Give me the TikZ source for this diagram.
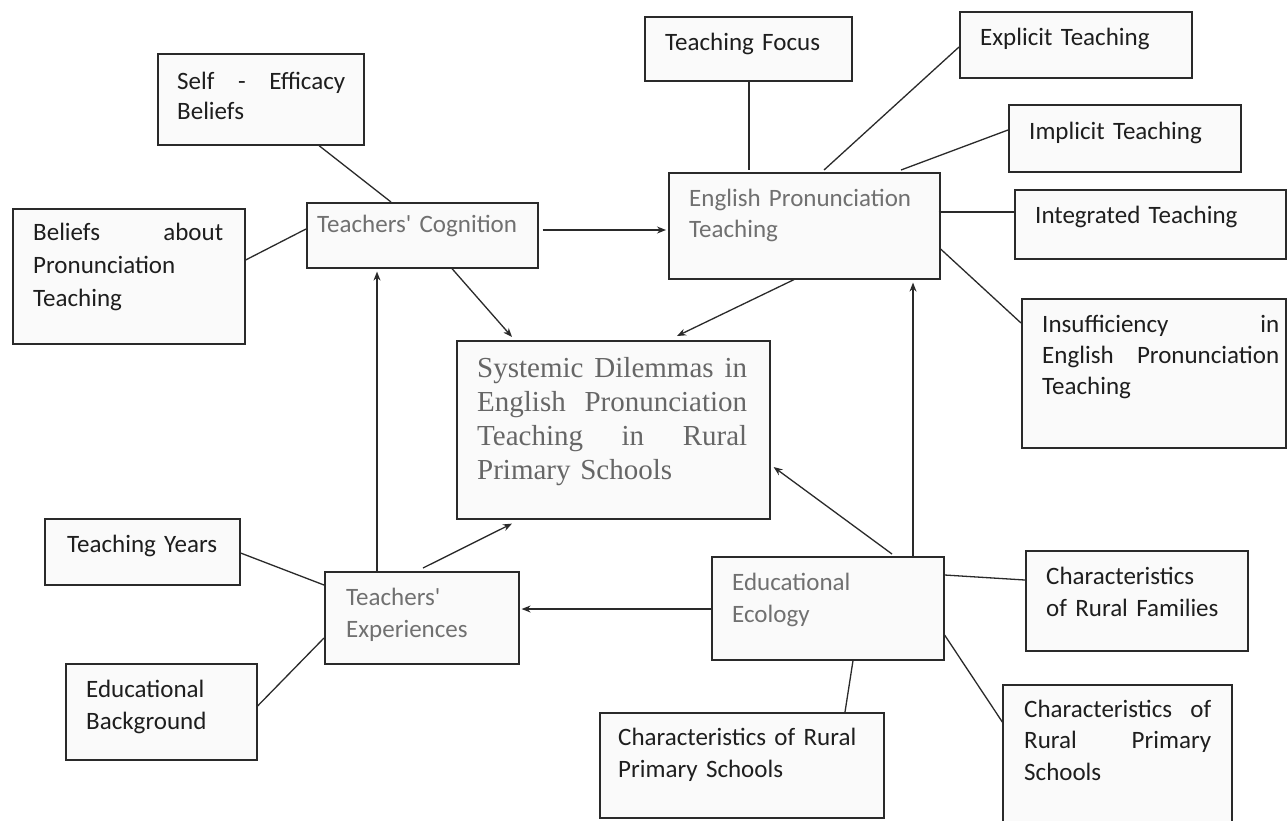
\documentclass[tikz,border=0pt]{standalone}
\usepackage{fontspec}
\setmainfont{Carlito}
\newfontfamily\serifsys{Liberation Serif}
\usetikzlibrary{arrows.meta,calc}
\definecolor{fillc}{HTML}{FAFAFA}
\definecolor{mainTxt}{HTML}{707070}
\definecolor{sysTxt}{HTML}{666666}
\definecolor{leafTxt}{HTML}{1E1E1E}
\definecolor{edgeC}{HTML}{2A2A2A}
\newcommand\jline[2]{\leavevmode\hbox to #1pt{#2}}
\begin{document}
\begin{tikzpicture}[x=1pt,y=-1pt,
  box/.style={draw=edgeC, line width=1.6pt, fill=fillc, inner sep=0pt, anchor=north west},
  lbl/.style={anchor=base west, inner sep=0pt, align=left, text=leafTxt, font=\fontsize{25}{32}\selectfont},
  mlbl/.style={lbl, text=mainTxt},
  link/.style={draw=edgeC, line width=1.3pt},
  arr/.style={link, -{Stealth[length=9pt,width=7pt]}}]
\useasboundingbox (0,0) rectangle (1287,820);
\clip (0,0) rectangle (1287,820);
\fill[white] (0,0) rectangle (1287,820);

% boxes
\node[box, minimum width=206pt, minimum height=91pt] (se) at (157,53) {};
\node[box, minimum width=232pt, minimum height=135pt] (bel) at (12,208) {};
\node[box, minimum width=231pt, minimum height=65pt] (tc) at (306,202) {};
\node[box, minimum width=207pt, minimum height=64pt] (tf) at (644,16) {};
\node[box, minimum width=271pt, minimum height=106pt] (ept) at (668,172) {};
\node[box, minimum width=232pt, minimum height=66pt] (exp) at (959,11) {};
\node[box, minimum width=232pt, minimum height=67pt] (imp) at (1008,104) {};
\node[box, minimum width=271pt, minimum height=69pt] (int) at (1014,189) {};
\node[box, minimum width=264pt, minimum height=149pt] (ins) at (1021,298) {};
\node[box, minimum width=313pt, minimum height=178pt] (sys) at (456,340) {};
\node[box, minimum width=195pt, minimum height=66pt] (ty) at (44,518) {};
\node[box, minimum width=194pt, minimum height=92pt] (te) at (324,571) {};
\node[box, minimum width=191pt, minimum height=96pt] (eb) at (65,663) {};
\node[box, minimum width=232pt, minimum height=103pt] (eco) at (711,556) {};
\node[box, minimum width=284pt, minimum height=105pt] (crps) at (599,712) {};
\node[box, minimum width=222pt, minimum height=100pt] (crf) at (1025,550) {};
\node[box, minimum width=229pt, minimum height=146pt] (crpsb) at (1002,684) {};

% connectors
\draw[link] ($(se.south west)+(162,0)$) -- ($(tc.north west)+(85,0)$);
\draw[link] ($(bel.north east)+(0,52)$) -- ($(tc.north west)+(0,27)$);
\draw[arr] ($(tc.north east)+(4,28)$) -- ($(ept.north west)+(-2,58)$);
\draw[arr] ($(tc.south west)+(146,0)$) -- ($(sys.north west)+(56,-3)$);
\draw[arr] ($(te.north west)+(53,0)$) -- ($(tc.south west)+(71,3)$);
\draw[link] ($(tf.south west)+(105,0)$) -- ($(ept.north west)+(81,-2)$);
\draw[link] ($(ept.north west)+(156,-2)$) -- ($(exp.north west)+(0,36)$);
\draw[link] ($(ept.north west)+(233,-2)$) -- ($(imp.north west)+(0,26)$);
\draw[link] ($(ept.north east)+(-2,40)$) -- ($(int.north west)+(0,23)$);
\draw[link] ($(ept.north east)+(0,77)$) -- ($(ins.north west)+(0,25)$);
\draw[arr] ($(ept.south west)+(126,0)$) -- ($(sys.north west)+(221,-4)$);
\draw[arr] ($(eco.north west)+(202,0)$) -- ($(ept.south west)+(245,3)$);
\draw[arr] ($(eco.north west)+(181,-2)$) -- ($(sys.north east)+(3,127)$);
\draw[arr] ($(eco.north west)+(0,53)$) -- ($(te.north east)+(2,38)$);
\draw[arr] ($(te.north west)+(99,-3)$) -- ($(sys.south west)+(56,4)$);
\draw[link] ($(ty.north east)+(0,35)$) -- ($(te.north west)+(0,14)$);
\draw[link] ($(eb.north east)+(0,43)$) -- ($(te.north west)+(0,67)$);
\draw[link] ($(eco.north east)+(0,19)$) -- ($(crf.north west)+(0,30)$);
\draw[link] ($(eco.north east)+(0,79)$) -- ($(crpsb.north west)+(1,39)$);
\draw[link] ($(eco.south west)+(142,0)$) -- ($(crps.north west)+(246,0)$);

% labels
\node[lbl, text width=220pt, font=\fontsize{25}{30}\selectfont] (seL) at (177,89) {\jline{168}{Self\hfill-\hfill Efficacy}\\Beliefs};
\node[lbl, text width=230pt, font=\fontsize{25}{33}\selectfont] (belL) at (33,240) {\jline{190}{Beliefs\hfill about}\\Pronunciation\\Teaching};
\node[mlbl, text width=230pt] (tcL) at (317,232) {Teachers\textquotesingle\ Cognition};
\node[lbl, text width=200pt] (tfL) at (665,50) {Teaching Focus};
\node[mlbl, text width=260pt, font=\fontsize{25}{31}\selectfont] (eptL) at (689,206) {English Pronunciation\\Teaching};
\node[lbl, text width=220pt] (expL) at (980,45) {Explicit Teaching};
\node[lbl, text width=220pt] (impL) at (1029,139) {Implicit Teaching};
\node[lbl, text width=240pt] (intL) at (1035,223) {Integrated Teaching};
\node[lbl, text width=260pt, font=\fontsize{25}{31}\selectfont] (insL) at (1042,332) {\jline{237}{Insufficiency\hfill in}\\\jline{237}{English\hfill Pronunciation}\\Teaching};
\node[lbl, text width=300pt, text=sysTxt, font=\serifsys\fontsize{29}{34}\selectfont] (sysL) at (477,377) {\jline{270}{Systemic\hfill Dilemmas\hfill in}\\\jline{270}{English\hfill Pronunciation}\\\jline{270}{Teaching\hfill in\hfill Rural}\\Primary Schools};
\node[lbl, text width=200pt] (tyL) at (67,552) {Teaching Years};
\node[mlbl, text width=180pt] (teL) at (346,605) {Teachers\textquotesingle\\Experiences};
\node[lbl, text width=180pt] (ebL) at (86,697) {Educational\\Background};
\node[mlbl, text width=200pt] (ecoL) at (732,590) {Educational\\Ecology};
\node[lbl, text width=270pt] (crpsL) at (618,745) {Characteristics of Rural\\Primary Schools};
\node[lbl, text width=210pt] (crfL) at (1046,584) {Characteristics\\of Rural Families};
\node[lbl, text width=220pt, font=\fontsize{25}{31.5}\selectfont] (crpsbL) at (1024,717) {\jline{187}{Characteristics\hfill of}\\\jline{187}{Rural\hfill Primary}\\Schools};
\end{tikzpicture}
\end{document}
